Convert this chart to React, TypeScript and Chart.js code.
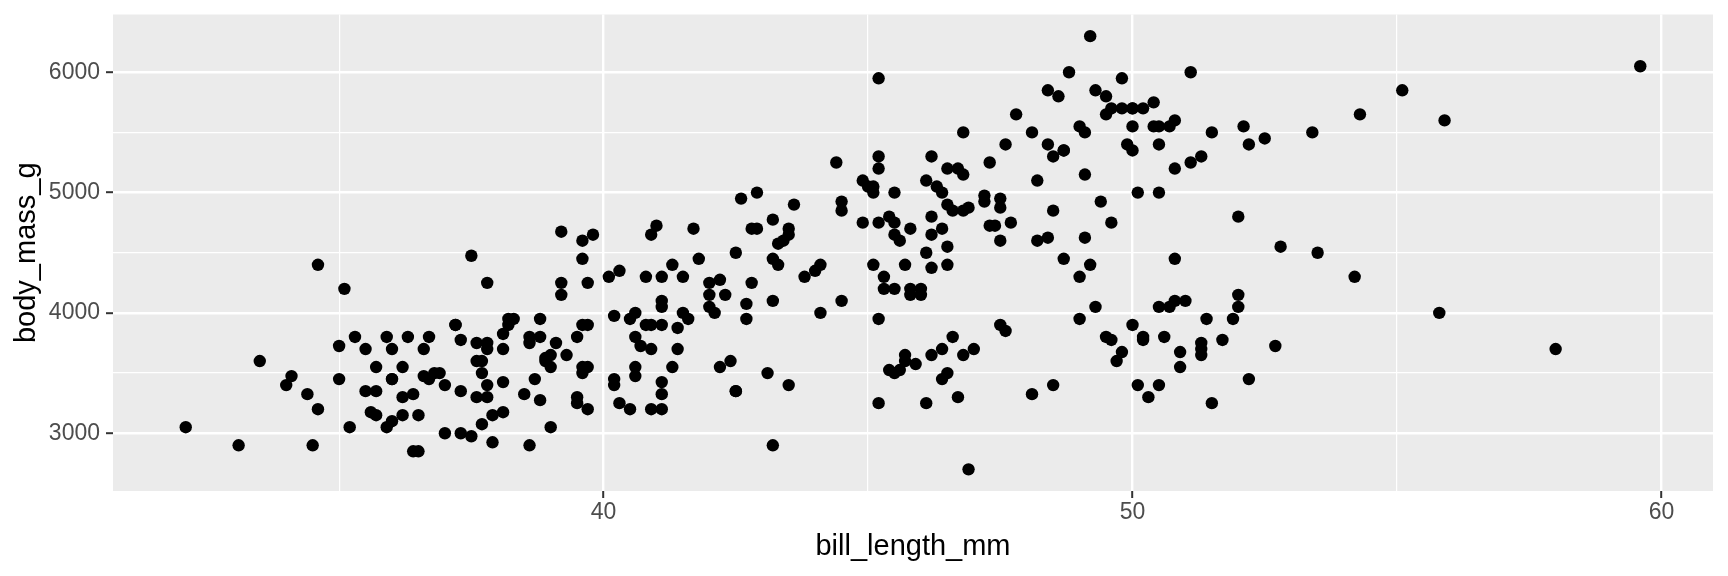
import React, { useEffect, useRef } from "react";
import { Chart, registerables } from "chart.js";

Chart.register(...registerables);

// ---- Data (bill_length_mm, body_mass_g) ----
const adelieBill = [
  39.1, 39.5, 40.3, 36.7, 39.3, 38.9, 39.2, 34.1, 42.0, 37.8,
  37.8, 41.1, 38.6, 34.6, 36.6, 38.7, 42.5, 34.4, 46.0, 37.8,
  37.7, 35.9, 38.2, 38.8, 35.3, 40.6, 40.5, 37.9, 40.5, 39.5,
  37.2, 39.5, 40.9, 36.4, 39.2, 38.8, 42.2, 37.6, 39.8, 36.5,
  40.8, 36.0, 44.1, 37.0, 39.6, 41.1, 37.5, 36.0, 42.3, 39.6,
  40.1, 35.0, 42.0, 34.5, 41.4, 39.0, 40.6, 36.5, 37.6, 35.7,
  41.3, 37.6, 41.1, 36.4, 41.6, 35.5, 41.1, 35.9, 41.8, 33.5,
  39.7, 39.6, 45.8, 35.5, 42.8, 40.9, 37.2, 36.2, 42.1, 34.6,
  42.9, 36.7, 35.1, 37.3, 41.3, 36.3, 36.9, 38.3, 38.9, 35.7,
  41.1, 34.0, 39.6, 36.2, 40.8, 38.1, 40.3, 33.1, 43.2, 35.0,
  41.0, 37.7, 37.8, 37.9, 39.7, 38.6, 38.2, 38.1, 43.2, 38.1,
  45.6, 39.7, 42.2, 39.6, 42.7, 38.6, 37.3, 35.7, 41.1, 36.2,
  37.7, 40.2, 41.4, 35.2, 40.6, 38.8, 41.5, 39.0, 44.1, 38.5,
  43.1, 36.8, 37.5, 38.1, 41.1, 35.6, 40.2, 37.0, 39.7, 40.2,
  40.6, 32.1, 40.7, 37.3, 39.0, 39.2, 36.6, 36.0, 37.8, 36.0,
  41.5,
];
const adelieMass = [
  3750, 3800, 3250, 3450, 3650, 3625, 4675, 3475, 4250, 3300,
  3700, 3200, 3800, 4400, 3700, 3450, 4500, 3325, 4200, 3400,
  3600, 3800, 3950, 3800, 3800, 3550, 3200, 3150, 3950, 3250,
  3900, 3300, 3900, 3325, 4150, 3950, 3550, 3300, 4650, 3150,
  3900, 3100, 4400, 3000, 4600, 3425, 2975, 3450, 4150, 3500,
  4300, 3450, 4050, 2900, 3700, 3550, 3800, 2850, 3750, 3150,
  4400, 3600, 4050, 2850, 3950, 3350, 4100, 3050, 4450, 3600,
  3900, 3550, 4150, 3700, 4250, 3700, 3900, 3550, 4000, 3200,
  4700, 3800, 4200, 3350, 3550, 3800, 3500, 3950, 3600, 3550,
  4300, 3400, 4450, 3300, 4300, 3700, 4350, 2900, 4100, 3725,
  4725, 3075, 4250, 2925, 3550, 3750, 3900, 3175, 4775, 3825,
  4600, 3200, 4275, 3900, 4075, 2900, 3775, 3350, 3325, 3150,
  3500, 3450, 3875, 3050, 4000, 3275, 4300, 3050, 4000, 3325,
  3500, 3500, 4475, 3425, 3900, 3175, 3975, 3400, 4250, 3400,
  3475, 3050, 3725, 3000, 3650, 4250, 3475, 3450, 3750, 3700,
  4000,
];

const gentooBill = [
  46.1, 50.0, 48.7, 50.0, 47.6, 46.5, 45.4, 46.7, 43.3, 46.8,
  40.9, 49.0, 45.5, 48.4, 45.8, 49.3, 42.0, 49.2, 46.2, 48.7,
  50.2, 45.1, 46.5, 46.3, 42.9, 46.1, 44.5, 47.8, 48.2, 50.0,
  47.3, 42.8, 45.1, 59.6, 49.1, 48.4, 42.6, 44.4, 44.0, 48.7,
  42.7, 49.6, 45.3, 49.6, 50.5, 43.6, 45.5, 50.5, 44.9, 45.2,
  46.6, 48.5, 45.1, 50.1, 46.5, 45.0, 43.8, 45.5, 43.2, 50.4,
  45.3, 46.2, 45.7, 54.3, 45.8, 49.8, 46.2, 49.5, 43.5, 50.7,
  47.7, 46.4, 48.2, 46.5, 46.4, 48.6, 47.5, 51.1, 45.2, 45.2,
  49.1, 52.5, 47.4, 50.0, 44.9, 50.8, 43.4, 51.3, 47.5, 52.1,
  47.5, 52.2, 45.5, 49.5, 44.5, 50.8, 49.4, 46.9, 48.4, 51.1,
  48.5, 55.9, 47.2, 49.1, 47.3, 46.8, 41.7, 53.4, 43.3, 48.1,
  50.5, 49.8, 43.5, 51.5, 46.2, 55.1, 44.5, 48.8,
  47.2, 46.8, 50.4, 45.2, 49.9,
];
const gentooMass = [
  4500, 5700, 4450, 5700, 5400, 4550, 4800, 5200, 4400, 5150,
  4650, 5550, 4650, 5850, 4200, 5850, 4150, 6300, 4800, 5350,
  5700, 5000, 4400, 5050, 5000, 5100, 4100, 5650, 4600, 5550,
  5250, 4700, 5050, 6050, 5150, 5400, 4950, 5250, 4350, 5350,
  3950, 5700, 4300, 4750, 5550, 4900, 4200, 5400, 5100, 5300,
  4850, 5300, 4400, 5000, 4900, 5050, 4300, 5000, 4450, 5550,
  4200, 5300, 4400, 5650, 4700, 5700, 4650, 5800, 4700, 5550,
  4750, 5000, 5100, 5200, 4700, 5800, 4600, 6000, 4750, 5950,
  4625, 5450, 4725, 5350, 4750, 5600, 4600, 5300, 4875, 5550,
  4950, 5400, 4750, 5650, 4850, 5200, 4925, 4875, 4625, 5250,
  4850, 5600, 4975, 5500, 4725, 5500, 4700, 5500, 4575, 5500,
  5000, 5950, 4650, 5500, 4375, 5850, 4925, 6000,
  4925, 4850, 5750, 5200, 5400,
];

const chinstrapBill = [
  46.5, 50.0, 51.3, 45.4, 52.7, 45.2, 46.1, 51.3, 46.0, 51.3,
  46.6, 51.7, 47.0, 52.0, 45.9, 50.5, 50.3, 58.0, 46.4, 49.2,
  42.4, 48.5, 43.2, 50.6, 46.7, 52.0, 50.5, 49.5, 46.4, 52.8,
  40.9, 54.2, 42.5, 51.0, 49.7, 47.5, 47.6, 52.0, 46.9, 53.5,
  49.0, 46.2, 50.9, 45.5, 50.9, 50.8, 50.1, 49.0, 51.5, 49.8,
  48.1, 51.4, 45.7, 50.7, 42.5, 52.2, 45.2, 49.3, 50.2, 45.6,
  51.9, 46.8, 45.7, 55.8, 43.5, 49.6, 50.8, 50.2,
];
const chinstrapMass = [
  3500, 3900, 3650, 3525, 3725, 3950, 3250, 3750, 4150, 3700,
  3800, 3775, 3700, 4050, 3575, 4050, 3300, 3700, 3450, 4400,
  3600, 3400, 2900, 3800, 3300, 4150, 3400, 3800, 3700, 4550,
  3200, 4300, 3350, 4100, 3600, 3900, 3850, 4800, 2700, 4500,
  3950, 3650, 3550, 3500, 3675, 4450, 3400, 4300, 3250, 3675,
  3325, 3950, 3600, 4050, 3350, 3450, 3250, 4050, 3800, 3525,
  3950, 3650, 3650, 4000, 3400, 3775, 4100, 3775,
];

// ---- Axes ----
const xTicks = [35, 40, 45, 50, 55, 60];
const xTickLabels = ["", "40", "", "50", "", "60"];
const yTicks = [3000, 3500, 4000, 4500, 5000, 5500, 6000];
const yTickLabels = ["3000", "", "4000", "", "5000", "", "6000"];
const xTitle = "bill_length_mm";
const yTitle = "body_mass_g";

const W = 1728;
const H = 576;
const PANEL = { left: 113, right: 1713, top: 14.5, bottom: 491 };
const FONT = "'Liberation Sans', Arial, Helvetica, sans-serif";

function buildPoints() {
  const pts: { x: number; y: number }[] = [];
  const add = (xs: number[], ys: number[]) => {
    for (let i = 0; i < xs.length; i++) pts.push({ x: xs[i], y: ys[i] });
  };
  add(adelieBill, adelieMass);
  add(gentooBill, gentooMass);
  add(chinstrapBill, chinstrapMass);
  return pts;
}

const allX = [...adelieBill, ...gentooBill, ...chinstrapBill];
const allY = [...adelieMass, ...gentooMass, ...chinstrapMass];
const xMinD = Math.min(...allX), xMaxD = Math.max(...allX);
const yMinD = Math.min(...allY), yMaxD = Math.max(...allY);
const xPad = (xMaxD - xMinD) * 0.05;
const yPad = (yMaxD - yMinD) * 0.05;

function labelFor(ticks: number[], labels: string[], v: number) {
  const i = ticks.indexOf(v);
  return i >= 0 ? labels[i] : "";
}

export default function App() {
  const ref = useRef<HTMLCanvasElement | null>(null);

  useEffect(() => {
    const canvas = ref.current;
    if (!canvas) return;

    const panelBg = {
      id: "panelBg",
      beforeDraw(chart: any) {
        const { ctx, chartArea } = chart;
        ctx.save();
        ctx.fillStyle = "#EBEBEB";
        ctx.fillRect(chartArea.left, chartArea.top, chartArea.right - chartArea.left, chartArea.bottom - chartArea.top);
        ctx.restore();
      },
    };

    const axisTitles = {
      id: "axisTitles",
      afterDraw(chart: any) {
        const { ctx, chartArea } = chart;
        ctx.save();
        ctx.fillStyle = "#000000";
        ctx.font = `29px ${FONT}`;
        ctx.textAlign = "center";
        ctx.textBaseline = "alphabetic";
        ctx.fillText(xTitle, (chartArea.left + chartArea.right) / 2, 555);
        ctx.translate(35, (chartArea.top + chartArea.bottom) / 2);
        ctx.rotate(-Math.PI / 2);
        ctx.fillText(yTitle, 0, 0);
        ctx.restore();
      },
    };

    const isMajorX = (v: number) => labelFor(xTicks, xTickLabels, v) !== "";
    const isMajorY = (v: number) => labelFor(yTicks, yTickLabels, v) !== "";

    const chart = new Chart(canvas, {
      type: "scatter",
      data: {
        datasets: [
          {
            data: buildPoints(),
            backgroundColor: "#000000",
            borderWidth: 0,
            pointRadius: 6.2,
            pointHoverRadius: 6.2,
          },
        ],
      },
      options: {
        animation: false,
        responsive: false,
        devicePixelRatio: 1,
        layout: { padding: { top: PANEL.top, right: W - PANEL.right, bottom: 0, left: 0 } },
        plugins: { legend: { display: false }, tooltip: { enabled: false } },
        scales: {
          x: {
            type: "linear",
            min: xMinD - xPad,
            max: xMaxD + xPad,
            afterFit: (s: any) => {
              s.height = H - PANEL.bottom;
              s.paddingLeft = 0;
              s.paddingRight = 0;
            },
            afterBuildTicks: (s: any) => {
              s.ticks = xTicks.map((v) => ({ value: v }));
            },
            ticks: {
              callback: (v: any) => labelFor(xTicks, xTickLabels, Number(v)),
              color: "#4D4D4D",
              font: { family: FONT, size: 23 },
              padding: 1,
              maxRotation: 0,
              autoSkip: false,
            },
            grid: {
              color: "#FFFFFF",
              lineWidth: (c: any) => (isMajorX(c.tick?.value) ? 2.4 : 1.2),
              drawTicks: true,
              tickLength: 7,
              tickWidth: 2,
              tickColor: (c: any) => (isMajorX(c.tick?.value) ? "#333333" : "rgba(0,0,0,0)"),
            },
            border: { display: false },
          },
          y: {
            type: "linear",
            min: yMinD - yPad,
            max: yMaxD + yPad,
            afterFit: (s: any) => {
              s.width = PANEL.left;
              s.paddingTop = 0;
              s.paddingBottom = 0;
            },
            afterBuildTicks: (s: any) => {
              s.ticks = yTicks.map((v) => ({ value: v }));
            },
            ticks: {
              callback: (v: any) => labelFor(yTicks, yTickLabels, Number(v)),
              color: "#4D4D4D",
              font: { family: FONT, size: 23 },
              padding: 6,
              autoSkip: false,
            },
            grid: {
              color: "#FFFFFF",
              lineWidth: (c: any) => (isMajorY(c.tick?.value) ? 2.4 : 1.2),
              drawTicks: true,
              tickLength: 7,
              tickWidth: 2,
              tickColor: (c: any) => (isMajorY(c.tick?.value) ? "#333333" : "rgba(0,0,0,0)"),
            },
            border: { display: false },
          },
        },
      },
      plugins: [panelBg, axisTitles],
    } as any);

    return () => {
      chart.destroy();
    };
  }, []);

  return (
    <div style={{ position: "absolute", left: 0, top: 0, width: W, height: H, background: "#FFFFFF" }}>
      <canvas ref={ref} width={W} height={H} style={{ display: "block", width: W, height: H }} />
    </div>
  );
}
